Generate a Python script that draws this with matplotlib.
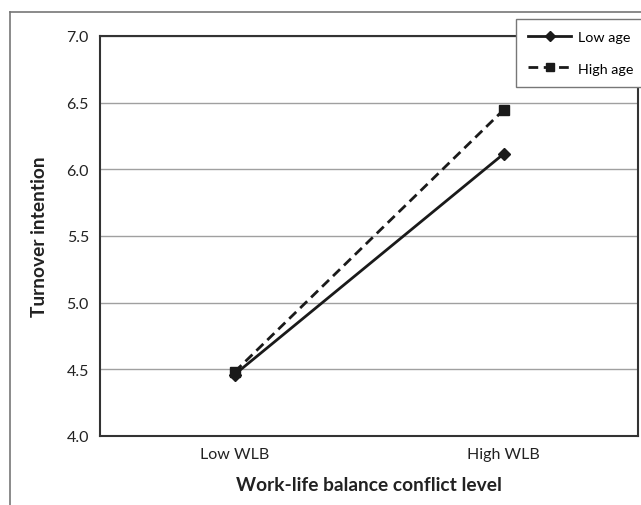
import matplotlib
matplotlib.use("Agg")
import matplotlib.pyplot as plt
from matplotlib.lines import Line2D

categories = ["Low WLB", "High WLB"]
low_age = [4.46, 6.115]
high_age = [4.48, 6.445]
yticks = [4.0, 4.5, 5.0, 5.5, 6.0, 6.5, 7.0]

plt.rcParams['font.family'] = ['Lato', 'DejaVu Sans']

W, H = 641, 506
fig = plt.figure(figsize=(W/100, H/100), dpi=100)
ax = fig.add_axes([100/W, 1-437/H, (638-100)/W, (437-37)/H])

x = list(range(len(categories)))
ax.plot(x, low_age, color='#1a1a1a', lw=2, ls='-', marker='D', ms=6, label='Low age', zorder=3)
ax.plot(x, high_age, color='#1a1a1a', lw=2, ls=(0, (3.5, 2)), marker='s', ms=7, label='High age', zorder=3)

ax.set_xlim(-0.5, 1.5)
ax.set_ylim(4.0, 7.0)
ax.set_yticks(yticks)
ax.set_yticklabels([f"{v:.1f}" for v in yticks])
ax.set_xticks(x)
ax.set_xticklabels(categories)
ax.tick_params(length=0, labelsize=11.5, colors='#222222', pad=8)
ax.yaxis.grid(True, color='#a0a0a0', lw=1)
ax.set_axisbelow(True)
for s in ax.spines.values():
    s.set_color('#333333')
    s.set_linewidth(1.5)

ax.set_xlabel("Work-life balance conflict level", fontsize=13.8, fontweight='bold', color='#222222', labelpad=11)
ax.set_ylabel("Turnover intention", fontsize=13.8, fontweight='bold', color='#222222', labelpad=13)

# outer border
fig.add_artist(Line2D([10/W, 10/W], [0, 1-13/H], color='#777777', lw=1.2, transform=fig.transFigure))
fig.add_artist(Line2D([10/W, 1], [1-13/H, 1-13/H], color='#777777', lw=1.2, transform=fig.transFigure))

leg = fig.legend(loc='upper left', bbox_to_anchor=(516/W, 1-20/H), fontsize=10.3,
                 frameon=True, fancybox=False, edgecolor='#777777', framealpha=1,
                 handlelength=3.0, labelspacing=1.35, borderpad=0.85, handletextpad=0.5,
                 borderaxespad=0, markerscale=0.9)
leg.get_frame().set_linewidth(1)

fig.savefig("out.png", dpi=100)
